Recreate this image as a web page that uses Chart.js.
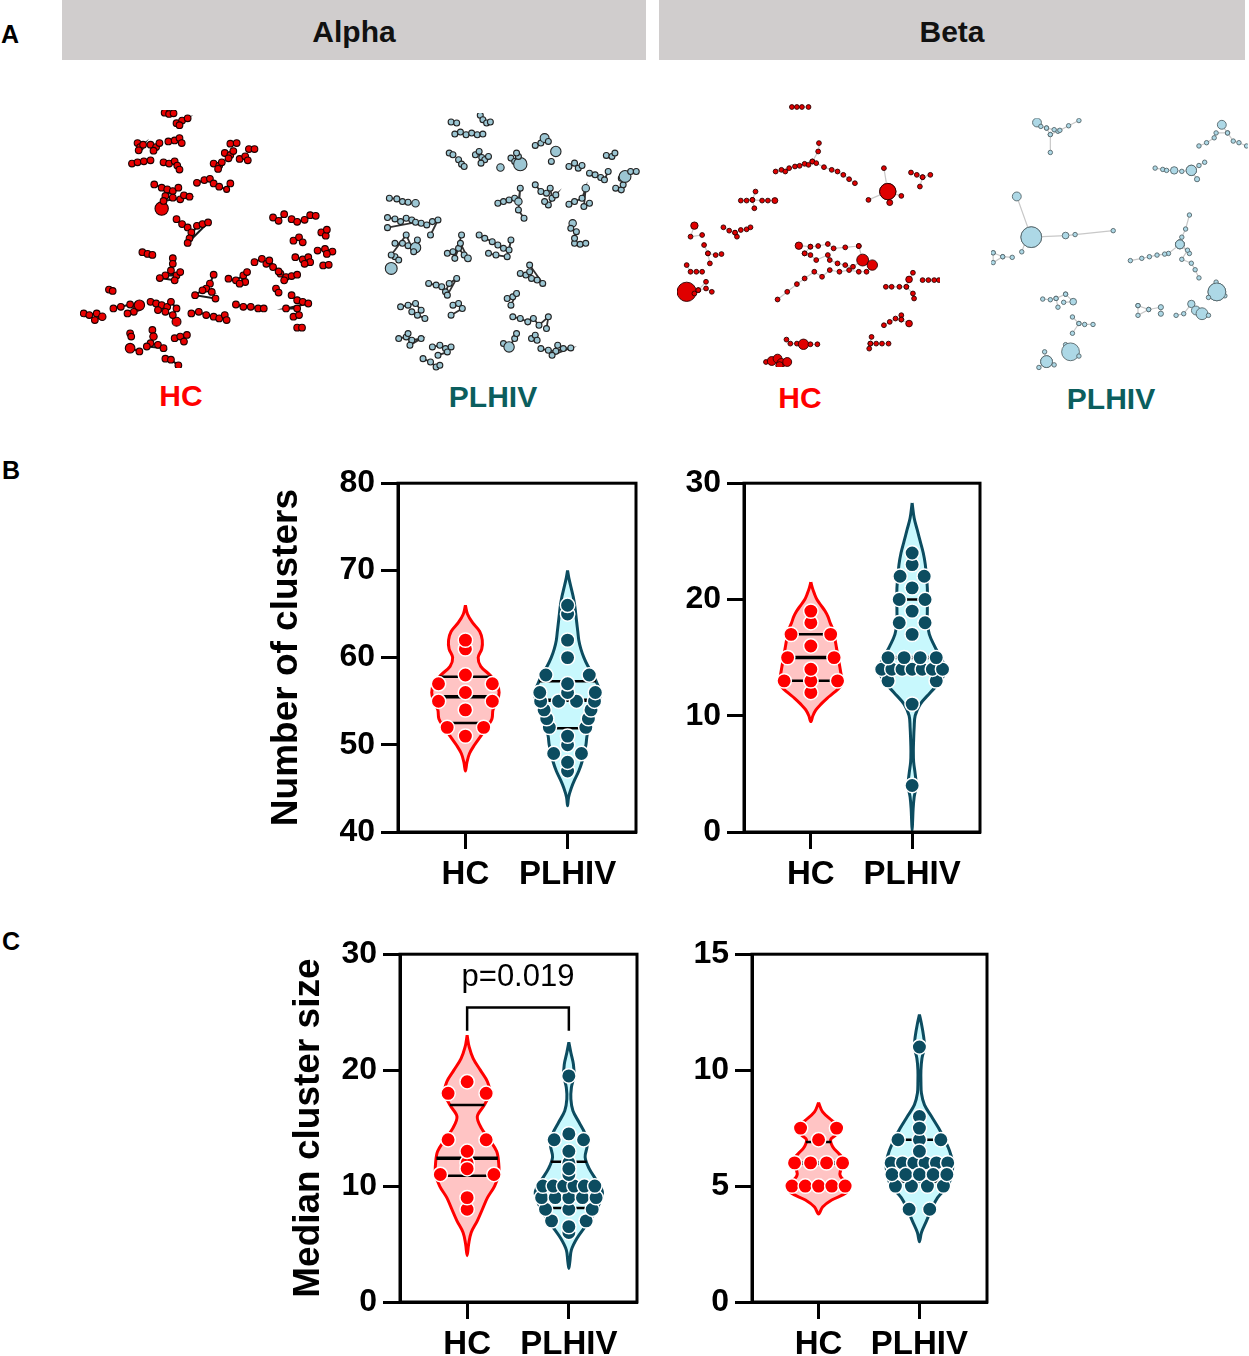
<!DOCTYPE html>
<html>
<head>
<meta charset="utf-8">
<script src="https://cdn.jsdelivr.net/npm/chart.js@4.4.1/dist/chart.umd.min.js"></script>
<style>
body { margin: 0; width: 1249px; height: 1356px; overflow: hidden; background: #fff; position: relative;
       font-family: "Liberation Sans", Arial, sans-serif; }
.hdr { position: absolute; top: 0; height: 60px; background: #d0cdcd; font-weight: bold; font-size: 30px;
       line-height: 64px; text-align: center; color: #111; }
.pan { position: absolute; font-weight: bold; font-size: 25px; line-height: 28px; color: #000; }
.lbl { position: absolute; width: 200px; text-align: center; font-weight: bold; font-size: 30px; line-height: 34px; }
canvas { position: absolute; }
</style>
</head>
<body>
<div class="hdr" style="left:62px;width:584px">Alpha</div>
<div class="hdr" style="left:659px;width:586px">Beta</div>
<div class="pan" style="left:1px;top:20px">A</div>
<div class="pan" style="left:2px;top:456px">B</div>
<div class="pan" style="left:2px;top:927px">C</div>

<div class="lbl" style="left:81px;top:379px;color:#f00">HC</div>
<div class="lbl" style="left:393px;top:380px;color:#0b5e5e">PLHIV</div>
<div class="lbl" style="left:700px;top:381px;color:#f00">HC</div>
<div class="lbl" style="left:1011px;top:382px;color:#0b5e5e">PLHIV</div>

<canvas id="netAlphaHC" width="278" height="278" style="left:70px;top:100px"></canvas>
<canvas id="netAlphaPL" width="277" height="279" style="left:373px;top:103px"></canvas>
<canvas id="netBetaHC" width="283" height="284" style="left:667px;top:93px"></canvas>
<canvas id="netBetaPL" width="279" height="275" style="left:980px;top:107px"></canvas>

<canvas id="bAlpha" width="384" height="434" style="left:262px;top:458px"></canvas>
<canvas id="bBeta" width="330" height="434" style="left:660px;top:458px"></canvas>
<canvas id="cAlpha" width="368" height="433" style="left:279px;top:929px"></canvas>
<canvas id="cBeta" width="329" height="433" style="left:668px;top:929px"></canvas>

<script>
const groups = ['HC', 'PLHIV'];

// ---- B: number of clusters per sample ----
const clustersAlphaHC = [62, 61, 58, 57, 57, 56, 55, 55, 54, 52, 52, 51];
const clustersAlphaPL = [66, 65, 62, 60, 58, 58, 57, 56, 56, 56, 55, 55, 55, 55, 54, 54, 53, 53, 52, 52, 51, 50, 49, 49, 48, 47];
const clustersBetaHC = [19, 18, 17, 17, 16, 15, 15, 14, 13, 13, 13, 12];
const clustersBetaPL = [24, 23, 22, 22, 21, 20, 20, 19, 18, 18, 17, 15, 15, 15, 15, 14, 14, 14, 14, 14, 14, 14, 13, 13, 11, 4];

// ---- C: median cluster size per sample ----
const sizeAlphaHC = [19, 18, 18, 14, 14, 13, 12, 11.5, 11, 11, 9, 8];
const sizeAlphaPL = [19.5, 14.5, 14, 14, 13, 12, 11.5, 11, 10, 10, 10, 10, 10, 10, 9, 9, 9, 9, 9, 8, 8, 8, 7, 7, 6.5, 6];
const sizeBetaHC = [7.5, 7.5, 7, 6, 6, 6, 6, 5, 5, 5, 5, 5];
const sizeBetaPL = [11, 8, 7.5, 7, 7, 7, 6.5, 6, 6, 6, 6, 6, 6, 5.5, 5.5, 5.5, 5.5, 5.5, 5, 5, 5, 5, 4, 4];

// quartile lines [Q1, median, Q3]
const quartClustersAlphaHC = [52.5, 55.5, 57.8];
const quartClustersAlphaPL = [51.9, 55.1, 57.3];
const quartClustersBetaHC = [13, 15, 17];
const quartClustersBetaPL = [14, 15, 20];
const quartSizeAlphaHC = [10.9, 12.4, 17];
const quartSizeAlphaPL = [8.1, 9.9, 12.1];
const quartSizeBetaHC = [5, 6, 6.9];
const quartSizeBetaPL = [5.2, 6, 7];

// violin density outlines: [value, half width in category units], top to bottom
const violinClustersAlphaHC = [[66, 0], [65, 0.02], [64, 0.07], [63, 0.14], [62, 0.165], [61, 0.16], [60, 0.125], [59, 0.15], [58, 0.24],
  [57, 0.31], [56, 0.33], [55, 0.31], [54, 0.27], [53, 0.26], [52, 0.21], [51, 0.15], [50, 0.09], [49, 0.04], [48, 0.015], [47, 0]];
const violinClustersAlphaPL = [[70, 0], [69, 0.015], [68, 0.035], [67, 0.055], [66, 0.07], [65, 0.08], [64, 0.09], [63, 0.1], [62, 0.11],
  [61, 0.13], [60, 0.16], [59, 0.2], [58, 0.25], [57, 0.29], [56, 0.32], [55, 0.31], [54, 0.27], [53, 0.24], [52, 0.21], [51, 0.19],
  [50, 0.18], [49, 0.16], [48, 0.14], [47, 0.11], [46, 0.07], [45, 0.035], [44, 0.01], [43, 0]];
const violinClustersBetaHC = [[21.5, 0], [21, 0.015], [20.5, 0.035], [20, 0.06], [19.5, 0.1], [19, 0.14], [18.5, 0.17], [18, 0.19],
  [17.5, 0.215], [17, 0.23], [16.5, 0.24], [16, 0.25], [15.5, 0.26], [15, 0.27], [14.5, 0.28], [14, 0.29], [13.5, 0.3], [13, 0.31],
  [12.5, 0.29], [12, 0.23], [11.5, 0.16], [11, 0.1], [10.5, 0.05], [10, 0.02], [9.5, 0]];
const violinClustersBetaPL = [[28.3, 0], [27, 0.02], [26, 0.05], [25, 0.08], [24, 0.11], [23, 0.13], [22, 0.14], [21, 0.15], [20, 0.15],
  [19, 0.15], [18, 0.15], [17, 0.17], [16, 0.22], [15, 0.28], [14, 0.33], [13, 0.28], [12, 0.18], [11, 0.08], [10, 0.03], [9, 0.02],
  [8, 0.015], [7, 0.012], [6, 0.015], [5, 0.03], [4, 0.04], [3, 0.02], [2, 0.01], [1, 0.005], [0.1, 0]];
const violinSizeAlphaHC = [[23, 0], [22, 0.02], [21, 0.06], [20, 0.13], [19, 0.2], [18, 0.22], [17, 0.17], [16, 0.1], [15, 0.14],
  [14, 0.22], [13, 0.29], [12, 0.31], [11, 0.31], [10, 0.27], [9, 0.2], [8, 0.15], [7, 0.1], [6, 0.04], [5, 0.015], [4, 0]];
const violinSizeAlphaPL = [[22.4, 0], [21.5, 0.02], [20.5, 0.045], [19.5, 0.05], [18.5, 0.025], [17.5, 0.02], [16.5, 0.04], [15.5, 0.1],
  [14.5, 0.16], [13.5, 0.18], [12.5, 0.16], [11.5, 0.2], [10.5, 0.27], [9.5, 0.33], [8.5, 0.3], [7.5, 0.24], [6.5, 0.16], [5.5, 0.08],
  [4.5, 0.025], [3.5, 0.01], [2.9, 0]];
const violinSizeBetaHC = [[8.6, 0], [8.2, 0.04], [7.8, 0.14], [7.5, 0.21], [7.2, 0.17], [7.0, 0.12], [6.7, 0.14], [6.4, 0.2], [6.0, 0.28],
  [5.7, 0.22], [5.4, 0.22], [5.0, 0.31], [4.7, 0.27], [4.4, 0.13], [4.1, 0.04], [3.8, 0]];
const violinSizeBetaPL = [[12.4, 0], [12, 0.02], [11.5, 0.04], [11, 0.05], [10.5, 0.025], [10, 0.015], [9.5, 0.015], [9, 0.02], [8.5, 0.05],
  [8, 0.12], [7.5, 0.19], [7, 0.25], [6.5, 0.3], [6, 0.33], [5.5, 0.32], [5, 0.28], [4.5, 0.18], [4, 0.12], [3.5, 0.07], [3, 0.02], [2.6, 0]];

const pValueText = 'p=0.019';
const pBracket = [23.4, 25.4];   // bracket foot / bar level
const pTextLevel = 28.0;

// ---- A: network layouts (layout units, [x, y, node size]) ----
const netAlphaHC = [
  [[278,68],[290,72],[302,70]], [[310,100],[325,92],[340,85],[318,106]], [[205,160],[212,172],[220,165],[208,182,9]],
  [[240,165],[255,172],[264,160],[248,183]], [[288,155],[305,152],[318,145],[324,160]], [[455,162],[472,160]],
  [[440,190],[455,196],[463,184],[450,206]], [[505,178],[520,178]], [[480,208],[495,200],[502,212]],
  [[190,222],[205,218],[222,215],[240,212]], [[275,218],[290,222],[305,215],[312,228],[318,240]],
  [[410,222],[425,228],[432,218],[422,238]], [[365,280],[385,272],[400,268],[410,282],[425,292],[445,300,8],[455,282]],
  [[250,285],[270,295],[285,300],[300,305],[315,295],[280,320],[300,325],[320,330],[330,318],[345,322],[275,335]],
  [[270,358,18]], [[310,390],[325,405],[340,415],[350,430],[345,448],[365,410],[380,405],[395,400],[340,462]],
  [[218,490],[232,495],[245,498]], [[300,508],[300,525],[295,545],[280,560],[310,560],[320,550],[265,568],[305,575]],
  [[410,558],[400,585],[390,600],[405,610],[380,605],[360,620],[415,630]], [[450,570],[470,575],[490,560],[495,580],[480,585],[500,550]],
  [[520,520],[540,510,9],[552,525],[570,535],[585,548],[560,515]], [[590,555],[605,565],[620,562],[635,558],[600,575]],
  [[570,385],[585,395],[600,375]], [[620,390],[635,398],[655,392]], [[670,378],[685,380]], [[625,455],[640,445],[650,460]],
  [[700,430],[712,440],[715,422]], [[690,485],[710,480],[730,488],[715,495]], [[630,505],[650,512],[665,505],[670,520],[655,525]],
  [[705,530],[720,528]], [[620,620],[635,635],[650,640],[665,645],[605,660],[635,660]], [[578,600],[585,612]],
  [[625,685],[640,680]], [[635,718],[648,718]], [[470,648],[490,655],[510,655,9],[530,660],[545,660]],
  [[350,675],[370,670],[390,680],[410,685],[425,690],[440,680],[445,695]],
  [[240,640],[255,645],[270,650],[285,655],[260,665],[280,670],[300,680],[310,660],[295,640]], [[210,650,14]],
  [[140,660],[160,655],[185,648],[205,655,12],[195,670],[178,675]], [[128,603],[138,607]],
  [[60,675],[75,680],[95,675],[110,685,10],[90,695]], [[310,700,12]],
  [[245,725],[248,745,10],[240,765],[260,770],[275,780],[230,775]], [[185,780,13],[210,790,9]], [[185,735],[188,745]],
  [[305,750],[320,745],[330,760],[338,740]], [[280,812],[295,815],[315,832]]
];
const netAlphaPL = [
  [[1040,92],[1055,95]], [[1118,72],[1125,85],[1135,95],[1145,92]], [[1050,128],[1065,122],[1080,130],[1095,125],[1110,130],[1125,128]],
  [[1035,185],[1045,190]], [[1060,205],[1068,218],[1075,225]], [[1105,190],[1115,180],[1122,198],[1130,205],[1120,215],[1140,195]],
  [[1172,228,10]], [[1200,200],[1210,210],[1225,218,18],[1220,195],[1215,185]], [[1265,162],[1280,155],[1290,140,12],[1300,150]],
  [[1320,180,14]], [[1308,210,8]], [[1355,225],[1370,215],[1380,230],[1390,222]], [[1455,192],[1470,195],[1478,185]],
  [[1410,245],[1425,250],[1440,258],[1450,265],[1460,240]], [[1495,260],[1505,255,16],[1520,240],[1535,240]],
  [[1480,290],[1495,295],[1500,280]],
  [[1165,335],[1180,330],[1195,325],[1210,320],[1220,330,10],[1225,290,8],[1220,355],[1235,380,8]],
  [[1265,280],[1280,300],[1295,305],[1305,290],[1310,320],[1320,310],[1300,340],[1290,330]],
  [[1355,338],[1370,330],[1390,320],[1400,290,10],[1395,345],[1410,335]], [[1365,395,10],[1360,410],[1375,420],[1370,440]],
  [[1370,455],[1385,458],[1400,455]], [[875,320],[895,322],[910,330],[925,332],[945,335,10]],
  [[870,378],[890,382],[905,390],[920,380],[935,385],[945,392],[870,408]], [[960,395],[975,400],[990,390],[1005,385,8],[985,430]],
  [[890,455],[910,455],[925,462],[945,468,14],[950,445],[940,480],[920,430],[880,490]],
  [[1030,485],[1045,480],[1060,470],[1075,490],[1085,500,9],[1065,455],[1050,500],[1068,430]],
  [[1115,430],[1130,440],[1150,450],[1165,460],[1180,470],[1195,475],[1200,445],[1190,495],[1160,490],[1140,485]],
  [[880,530,16]], [[890,495],[900,505]], [[1225,545],[1240,550],[1250,540],[1255,560],[1270,565],[1285,575],[1250,520]],
  [[980,575],[1000,580],[1015,585],[1025,600],[1035,575],[1055,560],[1030,610]],
  [[905,645],[925,640],[945,635],[960,655],[950,670],[970,680],[935,660]], [[1045,640],[1060,635],[1070,650],[1040,670]],
  [[1190,620],[1205,615],[1215,605],[1200,640]], [[1205,675],[1225,680],[1245,690],[1260,680],[1275,700],[1300,675,8],[1295,710]],
  [[900,740],[920,735],[935,745],[960,740,8],[930,760],[925,725]], [[990,765],[1010,760],[1025,770],[1040,765],[1030,780],[1005,790]],
  [[965,800],[985,810],[1000,825],[1010,820]], [[1180,755],[1195,765,14],[1210,740],[1215,725]], [[1255,740],[1265,730],[1270,745]],
  [[1280,770],[1300,775],[1320,778],[1340,770],[1360,768],[1310,790],[1325,760]]
];
const netBetaHC = [
  [[372,52],[385,52],[398,52],[415,52]],
  [[330,245],[345,240],[355,245],[365,235],[380,230],[392,228],[405,222],[415,225],[425,215],[435,220],[455,232],[475,240],[490,245],[505,255],[520,268],[535,280]],
  [[425,215],[440,185],[442,160]],
  [[610,235],[620,305,22],[570,330]], [[625,338,8],[620,305,22],[655,318]],
  [[680,248],[695,255],[710,262],[730,255]], [[710,262],[703,290]],
  [[240,332],[255,332],[270,330],[295,332],[310,332],[328,332,8]], [[278,305],[270,330],[275,355]],
  [[120,407,10],[110,440],[140,435]],
  [[195,412],[210,422],[225,428],[240,420],[255,418],[265,412]], [[225,428],[230,440]],
  [[145,465],[155,490],[175,495],[190,492]], [[155,490],[160,520]],
  [[100,525],[110,545],[125,545],[140,545]],
  [[80,605],[100,605,26],[120,610],[130,600],[150,595],[165,605]], [[130,600],[150,575]],
  [[390,467,10],[420,470],[440,468],[465,462],[480,475],[510,472],[545,468]],
  [[405,490],[420,495],[435,510],[465,495],[470,510],[490,520],[510,525],[530,530],[555,510,16],[580,525,14]],
  [[580,525],[565,545],[545,545],[520,540],[495,545],[470,540],[450,560],[430,545],[405,565],[385,582],[360,605],[335,628]],
  [[420,470],[405,490]], [[545,468],[555,510]],
  [[615,590],[630,590],[650,590],[668,590],[675,568,9],[685,548]], [[668,590],[685,610],[688,625]],
  [[710,570],[725,570],[740,570],[752,570]],
  [[610,705],[625,695],[640,685],[655,688],[675,700,9]], [[655,675],[655,688]],
  [[578,740],[575,760],[572,775]], [[575,760],[590,760],[605,760],[622,760]],
  [[358,748],[368,760],[385,760],[402,762,14],[420,762],[438,762]],
  [[305,815],[320,812,12],[335,805,12],[345,818,12],[360,815,12],[340,825,10]]
];
const netBetaPL = [
  [[1015,88,12],[1025,100],[1040,105],[1060,110],[1075,112],[1098,98],[1125,82]], [[1040,105],[1050,125],[1050,180]], [[1050,125],[1070,115]],
  [[1500,95,12],[1515,120],[1530,145],[1545,150],[1565,160]], [[1515,120],[1485,120],[1480,135],[1460,150],[1440,160]],
  [[1325,228,6],[1345,232],[1355,235],[1375,235,10],[1395,238],[1420,235,14],[1440,220],[1455,210]], [[1420,235,14],[1435,262,7]],
  [[962,315,12],[1000,440,28],[1090,435,9],[1115,432],[1215,420]], [[1000,440,28],[985,452],[975,485]],
  [[900,488],[900,518],[925,500],[950,502]], [[900,488],[925,500]],
  [[1415,372],[1405,415],[1395,440],[1390,462,12],[1410,480],[1395,508],[1420,520],[1430,540],[1440,565]],
  [[1390,462,12],[1360,490],[1350,492],[1330,495],[1310,500],[1290,505],[1260,512]], [[1390,462,12],[1415,490]],
  [[1485,578],[1487,608,24],[1465,625]], [[1487,608,24],[1508,620]],
  [[1280,650],[1280,680],[1308,662],[1280,650]], [[1308,662],[1340,655,7],[1340,675,7]],
  [[1380,680],[1400,675],[1420,645,10],[1432,665,12],[1448,675,16],[1465,680]],
  [[1030,630],[1050,632],[1065,628],[1090,615]], [[1065,628],[1070,655]], [[1090,615],[1110,638,9],[1085,640]],
  [[1108,685],[1125,705],[1140,708],[1162,708]], [[1125,705],[1108,735]],
  [[1090,770],[1103,792,24],[1125,805]], [[1035,792],[1040,822,16],[1060,832]], [[1040,822,16],[1020,840]]
];

const FONT = "'Liberation Sans', Arial, sans-serif";
Chart.defaults.font.family = FONT;
Chart.defaults.color = '#000';

const RED = '#ff0000', RED_FILL = '#ffc4c4';
const TEAL = '#0c4c60', TEAL_FILL = '#c8f8fd';

function widthAt(profile, v) {
  for (let i = 0; i < profile.length - 1; i++) {
    const [y0, w0] = profile[i], [y1, w1] = profile[i + 1];
    if (v <= y0 && v >= y1) return w0 + (w1 - w0) * (y0 - v) / (y0 - y1);
  }
  return 0;
}

function outline(profile, c) {
  const right = profile.map(([y, w]) => ({x: c + w, y}));
  const left = profile.slice(0, -1).reverse().map(([y, w]) => ({x: c - w, y}));
  return right.concat(left);
}

// same values go on one row, spread across the violin width
function swarm(values, c, profile) {
  const rows = {};
  values.forEach(v => { rows[v] = (rows[v] || 0) + 1; });
  const pts = [];
  Object.keys(rows).forEach(k => {
    const v = +k, n = rows[k];
    const half = Math.max(widthAt(profile, v) * 0.85, (n - 1) * 0.05);
    for (let i = 0; i < n; i++) {
      pts.push({x: n === 1 ? c : c - half + 2 * half * i / (n - 1), y: v});
    }
  });
  return pts;
}

function groupSets(values, profile, quart, c, line, fill) {
  const sets = [{
    data: outline(profile, c), showLine: true, fill: 'shape', tension: 0.35,
    borderColor: line, backgroundColor: fill, borderWidth: 3, pointRadius: 0, order: 3
  }];
  quart.forEach((q, i) => {
    const w = widthAt(profile, q);
    sets.push({
      data: [{x: c - w, y: q}, {x: c + w, y: q}], showLine: true, borderColor: '#000',
      borderWidth: i === 1 ? 3.5 : 2.5, pointRadius: 0, order: 2
    });
  });
  sets.push({
    data: swarm(values, c, profile), pointRadius: 7.2, pointBackgroundColor: line,
    pointBorderColor: '#fff', pointBorderWidth: 1.5, order: 1
  });
  return sets;
}

const framePlugin = {
  id: 'frame',
  afterDraw(chart) {
    const {ctx, chartArea: a} = chart;
    ctx.save();
    ctx.strokeStyle = '#000';
    ctx.lineWidth = 3;
    ctx.strokeRect(a.left, a.top, a.right - a.left, a.bottom - a.top);
    ctx.restore();
  }
};

const pValuePlugin = {
  id: 'pvalue',
  afterDatasetsDraw(chart) {
    const {ctx, scales} = chart;
    ctx.save();
    ctx.font = '31px ' + FONT;
    ctx.fillStyle = '#000';
    ctx.textAlign = 'center';
    ctx.textBaseline = 'middle';
    ctx.fillText(pValueText, scales.x.getPixelForValue(1.5), scales.y.getPixelForValue(pTextLevel));
    ctx.restore();
  }
};

function violinChart(id, o) {
  const datasets = groupSets(o.hc, o.hcViolin, o.hcQuart, 1, RED, RED_FILL)
    .concat(groupSets(o.pl, o.plViolin, o.plQuart, 2, TEAL, TEAL_FILL));
  const plugins = [framePlugin];
  if (o.pValue) {
    datasets.push({
      data: [{x: 1, y: pBracket[0]}, {x: 1, y: pBracket[1]}, {x: 2, y: pBracket[1]}, {x: 2, y: pBracket[0]}],
      showLine: true, borderColor: '#000', borderWidth: 2.5, pointRadius: 0, order: 0
    });
    plugins.push(pValuePlugin);
  }
  const grid = {drawOnChartArea: false, tickLength: 17, tickWidth: 3, tickColor: '#000'};
  new Chart(document.getElementById(id), {
    type: 'scatter',
    data: {datasets},
    plugins,
    options: {
      responsive: false, animation: false, events: [],
      layout: {padding: {top: 20, right: 10, left: 0, bottom: 0}},
      plugins: {legend: {display: false}, tooltip: {enabled: false}},
      scales: {
        x: {
          type: 'linear', min: 0.34, max: 2.67,
          afterBuildTicks: s => { s.ticks = [{value: 1}, {value: 2}]; },
          afterFit: s => { s.height = 60; },
          ticks: {callback: v => groups[v - 1], font: {size: 33, weight: 'bold'}, color: '#000', padding: 6, maxRotation: 0, autoSkip: false},
          grid, border: {color: '#000', width: 3}
        },
        y: {
          min: o.min, max: o.max,
          afterFit: s => { s.width = o.yWidth; },
          ticks: {stepSize: o.step, font: {size: 32, weight: 'bold'}, color: '#000', padding: 6},
          grid, border: {color: '#000', width: 3},
          title: {display: !!o.title, text: o.title, font: {size: 37, weight: 'bold'}, color: '#000', padding: {top: o.titlePad || 4, bottom: 0}}
        }
      }
    }
  });
}

violinChart('bAlpha', {hc: clustersAlphaHC, pl: clustersAlphaPL, hcViolin: violinClustersAlphaHC, plViolin: violinClustersAlphaPL,
  hcQuart: quartClustersAlphaHC, plQuart: quartClustersAlphaPL, min: 40, max: 80, step: 10, yWidth: 136, title: 'Number of clusters', titlePad: 3});
violinChart('bBeta', {hc: clustersBetaHC, pl: clustersBetaPL, hcViolin: violinClustersBetaHC, plViolin: violinClustersBetaPL,
  hcQuart: quartClustersBetaHC, plQuart: quartClustersBetaPL, min: 0, max: 30, step: 10, yWidth: 84});
violinChart('cAlpha', {hc: sizeAlphaHC, pl: sizeAlphaPL, hcViolin: violinSizeAlphaHC, plViolin: violinSizeAlphaPL,
  hcQuart: quartSizeAlphaHC, plQuart: quartSizeAlphaPL, min: 0, max: 30, step: 10, yWidth: 121, title: 'Median cluster size', titlePad: 8, pValue: true});
violinChart('cBeta', {hc: sizeBetaHC, pl: sizeBetaPL, hcViolin: violinSizeBetaHC, plViolin: violinSizeBetaPL,
  hcQuart: quartSizeBetaHC, plQuart: quartSizeBetaPL, min: 0, max: 15, step: 5, yWidth: 84});

function networkChart(id, clusters, box, style) {
  new Chart(document.getElementById(id), {
    type: 'scatter',
    data: {
      datasets: clusters.map(cl => ({
        data: cl.map(p => ({x: p[0], y: p[1]})),
        showLine: true, tension: 0,
        borderColor: style.edge, borderWidth: style.edgeWidth,
        pointRadius: cl.map(p => (p[2] || style.size) / 2.7),
        pointBackgroundColor: style.fill, pointBorderColor: style.stroke, pointBorderWidth: style.strokeWidth
      }))
    },
    options: {
      responsive: false, animation: false, events: [],
      layout: {padding: 10},
      plugins: {legend: {display: false}, tooltip: {enabled: false}},
      scales: {
        x: {display: false, min: box[0], max: box[1]},
        y: {display: false, min: box[2], max: box[3], reverse: true}
      }
    }
  });
}

networkChart('netAlphaHC', netAlphaHC, [50, 745, 60, 840],
  {fill: '#e80000', stroke: '#1a0000', strokeWidth: 1.1, edge: '#1a1a1a', edgeWidth: 2, size: 9});
networkChart('netAlphaPL', netAlphaPL, [858, 1545, 65, 840],
  {fill: '#9cc6d3', stroke: '#222', strokeWidth: 1.1, edge: '#333', edgeWidth: 1.8, size: 8});
networkChart('netBetaHC', netBetaHC, [75, 755, 40, 830],
  {fill: '#e00000', stroke: '#2b0000', strokeWidth: 0.9, edge: '#c8c8c8', edgeWidth: 1.2, size: 6.5});
networkChart('netBetaPL', netBetaPL, [895, 1568, 75, 850],
  {fill: '#add8e6', stroke: '#55656a', strokeWidth: 0.9, edge: '#c8c8c8', edgeWidth: 1.2, size: 6});
</script>
</body>
</html>
